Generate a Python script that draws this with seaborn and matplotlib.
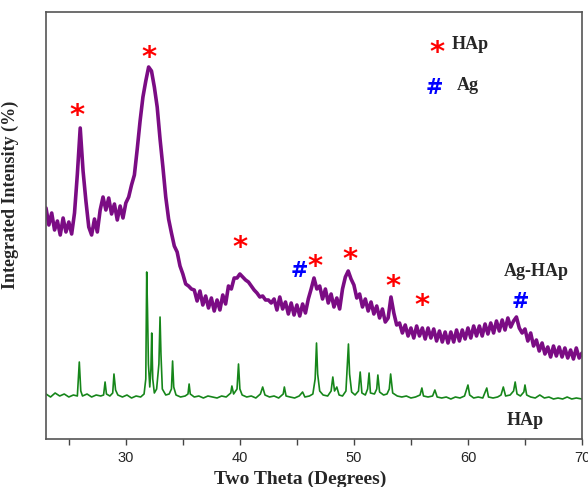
import numpy as np
import pandas as pd
import matplotlib
matplotlib.use("Agg")
import matplotlib.pyplot as plt
from matplotlib.ticker import MultipleLocator
import seaborn as sns

# Ag-HAp pattern, 2-theta grid 23..70 step 0.25 (arbitrary intensity units)
agHAp_theta = np.arange(23.0, 70.01, 0.25)
agHAp_int = [
    231, 214, 226, 209,
    218, 204, 221, 207,
    217, 205, 226, 265,
    311, 268, 238, 212,
    204, 220, 207, 229,
    242, 229, 241, 225,
    235, 219, 233, 221,
    236, 242, 254, 264,
    290, 318, 342, 358,
    372, 368, 352, 332,
    300, 272, 242, 220,
    206, 193, 187, 173,
    165, 155, 153, 150,
    149, 138, 148, 134,
    143, 131, 141, 128,
    139, 129, 144, 135,
    153, 150, 161, 161,
    165, 162, 159, 157,
    153, 149, 146, 142,
    143, 139, 139, 136,
    140, 129, 142, 130,
    137, 125, 136, 124,
    134, 123, 135, 126,
    140, 150, 161, 150,
    153, 140, 150, 136,
    145, 132, 141, 130,
    150, 162, 168, 160,
    154, 141, 145, 132,
    140, 128, 137, 125,
    133, 121, 130, 117,
    121, 142, 126, 114,
    116, 106, 114, 103,
    111, 101, 113, 103,
    111, 100, 111, 101,
    110, 98, 108, 97,
    107, 96, 107, 97,
    109, 98, 109, 100,
    111, 101, 113, 103,
    113, 103, 115, 105,
    116, 106, 118, 108,
    119, 109, 121, 112,
    118, 122, 111, 106,
    110, 98, 106, 93,
    99, 88, 96, 85,
    92, 82, 93, 83,
    92, 82, 91, 81,
    89, 80, 91, 81,
    86,
]

# pure HAp pattern
hap_theta = [
    23.0, 23.4, 23.8, 24.2, 24.6, 25.0, 25.4, 25.75, 25.92, 26.05, 26.2, 26.6,
    27.0, 27.4, 27.8, 28.05, 28.18, 28.3, 28.6, 28.85, 28.96, 29.1, 29.3, 29.7,
    30.1, 30.5, 30.9, 31.3, 31.6, 31.75, 31.83, 31.9, 31.98, 32.1, 32.2, 32.27,
    32.36, 32.5, 32.7, 32.9, 33.0, 33.08, 33.2, 33.5, 33.8, 34.0, 34.1, 34.2,
    34.4, 34.8, 35.2, 35.45, 35.55, 35.65, 36.0, 36.4, 36.8, 37.2, 37.6, 38.0,
    38.4, 38.8, 39.2, 39.3, 39.45, 39.75, 39.88, 40.0, 40.2, 40.6, 41.0, 41.4,
    41.8, 42.0, 42.2, 42.6, 43.0, 43.4, 43.8, 43.9, 44.05, 44.4, 44.8, 45.2,
    45.5, 45.7, 46.1, 46.4, 46.6, 46.72, 46.82, 47.0, 47.3, 47.7, 48.0, 48.15,
    48.3, 48.5, 48.7, 49.0, 49.3, 49.52, 49.62, 49.8, 50.1, 50.4, 50.55, 50.7,
    51.0, 51.2, 51.33, 51.45, 51.8, 52.0, 52.1, 52.25, 52.6, 52.9, 53.1, 53.22,
    53.4, 53.8, 54.2, 54.6, 55.0, 55.4, 55.8, 55.96, 56.1, 56.5, 56.9, 57.1,
    57.3, 57.7, 58.1, 58.5, 58.9, 59.3, 59.7, 60.0, 60.15, 60.5, 60.9, 61.3,
    61.65, 61.8, 62.2, 62.6, 62.9, 63.1, 63.3, 63.7, 64.0, 64.14, 64.3, 64.6,
    64.9, 65.0, 65.15, 65.5, 65.9, 66.3, 66.7, 67.1, 67.5, 67.9, 68.3, 68.7,
    69.1, 69.5, 70.0,
]
hap_int = [
    45, 42, 46, 43, 45, 42, 44, 43, 77, 48, 43, 45,
    42, 44, 43, 44, 57, 45, 43, 46, 65, 49, 44, 42,
    44, 41, 43, 42, 45, 60, 167, 130, 75, 52, 70, 106,
    60, 46, 50, 75, 122, 85, 50, 44, 45, 50, 78, 52,
    44, 42, 43, 45, 55, 45, 42, 43, 41, 43, 42, 41,
    43, 42, 46, 53, 45, 50, 75, 50, 44, 42, 43, 41,
    45, 52, 44, 42, 43, 41, 45, 52, 43, 42, 41, 43,
    47, 42, 43, 45, 60, 96, 65, 48, 44, 43, 48, 62,
    48, 52, 44, 43, 48, 95, 65, 47, 44, 48, 67, 46,
    44, 50, 66, 46, 45, 50, 64, 47, 44, 45, 50, 65,
    46, 43, 42, 43, 41, 42, 44, 51, 43, 42, 43, 49,
    42, 41, 42, 40, 42, 41, 43, 54, 44, 41, 42, 41,
    51, 42, 41, 42, 44, 52, 43, 44, 48, 57, 45, 43,
    47, 54, 44, 42, 41, 44, 41, 42, 40, 41, 40, 42,
    40, 41, 40,
]

# peak labels: (theta, height)
hap_peak_theta = [25.7, 32.0, 40.0, 46.6, 49.7, 53.4, 56.0]
hap_peak_y = [329, 387, 197, 178, 185, 158, 139]
ag_peak_theta = [45.2, 64.6]
ag_peak_y = [168, 137]

purple = "#7b0c84"
green = "#16861a"

sns.set_style("ticks")
plt.rcParams["font.family"] = ["Liberation Sans", "DejaVu Sans"]

fig = plt.figure(figsize=(5.88, 4.87), dpi=100)
ax = fig.add_axes([46 / 588, 48 / 487, 536 / 588, 427 / 487])

df_ag = pd.DataFrame({"theta": agHAp_theta, "intensity": agHAp_int})
df_hap = pd.DataFrame({"theta": hap_theta, "intensity": hap_int})
sns.lineplot(data=df_ag, x="theta", y="intensity", color=purple, lw=2.6,
             estimator=None, ax=ax)
sns.lineplot(data=df_hap, x="theta", y="intensity", color=green, lw=1.2,
             estimator=None, ax=ax)

star_kw = dict(color="red", fontsize=21, fontweight="bold", ha="center",
               va="center", family="DejaVu Sans")
hash_kw = dict(color="blue", fontsize=15, fontweight="bold", ha="center",
               va="center", family="DejaVu Sans")
for t, y in zip(hap_peak_theta, hap_peak_y):
    ax.text(t, y - 6, "*", **star_kw)
for t, y in zip(ag_peak_theta, ag_peak_y):
    ax.text(t, y, "#", **hash_kw)

# legend drawn as text
ax.text(0.729, 0.905, "*", transform=ax.transAxes, **star_kw)
ax.text(0.757, 0.923, "HAp", transform=ax.transAxes, fontsize=13,
        fontweight="bold", family="Liberation Serif", va="center")
ax.text(0.725, 0.822, "#", transform=ax.transAxes, **hash_kw)
ax.text(0.767, 0.829, "Ag", transform=ax.transAxes, fontsize=13,
        fontweight="bold", family="Liberation Serif", va="center")

ax.text(0.914, 0.393, "Ag-HAp", transform=ax.transAxes, fontsize=13,
        fontweight="bold", family="Liberation Serif", ha="center", va="center")
ax.text(0.894, 0.044, "HAp", transform=ax.transAxes, fontsize=13,
        fontweight="bold", family="Liberation Serif", ha="center", va="center")

ax.set_xlim(23, 70)
ax.set_ylim(0, 427)
ax.xaxis.set_major_locator(MultipleLocator(10))
ax.xaxis.set_minor_locator(MultipleLocator(5))
ax.set_yticks([])
ax.tick_params(axis="x", which="both", direction="out", length=4, width=1,
               color="#444444", labelsize=10.5, pad=5)
for s in ax.spines.values():
    s.set_color("#555555")
    s.set_linewidth(1.2)

ax.set_xlabel("Two Theta (Degrees)", fontsize=14, fontweight="bold",
              family="Liberation Serif")
ax.xaxis.set_label_coords(0.475, -0.075)
ax.set_ylabel("Integrated Intensity (%)", fontsize=13, fontweight="bold",
              family="Liberation Serif")
ax.yaxis.set_label_coords(-0.05, 0.571)

fig.savefig("out.png", dpi=100)
